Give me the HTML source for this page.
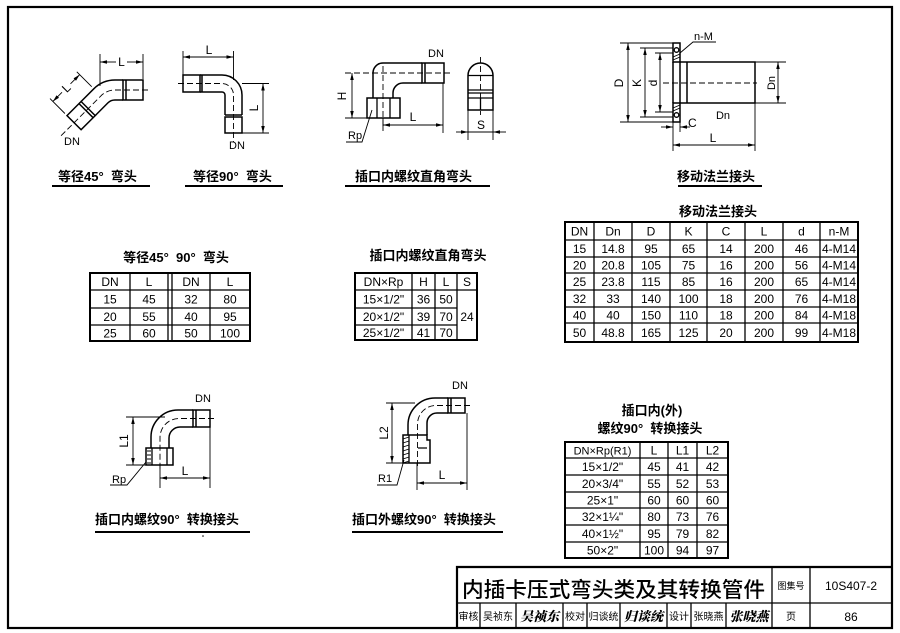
<!DOCTYPE html>
<html><head><meta charset="utf-8">
<style>
html,body{margin:0;padding:0;background:#fff;}
svg{display:block;}
.c{font-family:"Liberation Sans","Noto Sans CJK SC",sans-serif;font-weight:bold;font-size:13px;fill:#000;}
.t{font-family:"Liberation Sans","Noto Sans CJK SC",sans-serif;font-size:12px;fill:#000;}
.l{font-family:"Liberation Sans","Noto Sans CJK SC",sans-serif;font-size:11px;fill:#000;}
.s{fill:none;stroke:#000;stroke-width:1.5;}
.d{fill:none;stroke:#000;stroke-width:0.9;}
.k{fill:none;stroke:#000;stroke-width:0.9;stroke-dasharray:6 3;}
.g{fill:none;stroke:#000;stroke-width:1.3;}
.b{fill:none;stroke:#000;stroke-width:2;}
</style></head><body>
<svg width="900" height="633" viewBox="0 0 900 633" xmlns="http://www.w3.org/2000/svg">
<defs>
<marker id="a" viewBox="0 0 10 10" refX="10" refY="5" markerWidth="7" markerHeight="7" markerUnits="userSpaceOnUse" orient="auto-start-reverse"><path d="M0,2.5L10,5L0,7.5z" fill="#000"/></marker>
</defs>
<rect x="8" y="7" width="884" height="621" fill="none" stroke="#000" stroke-width="2.2"/>

<!-- ===== Drawing 1: 45 elbow ===== -->
<rect class="s" x="123" y="80" width="20" height="20"/>
<line class="s" x1="126" y1="80" x2="126" y2="100"/>
<path class="s" d="M123,80H115A30,30 0 0 0 93.8,88.8L81.1,101.5"/>
<path class="s" d="M123,100H115A10,10 0 0 0 107.9,102.9L95.2,115.6"/>
<polygon class="s" points="81.1,101.5 67,115.6 81.1,129.7 95.2,115.6"/>
<line class="s" x1="79" y1="103.6" x2="93.1" y2="117.7"/>
<path class="k" d="M148,90H115A20,20 0 0 0 100.9,95.9L60,136.8"/>
<path class="d" d="M100,54V86M143,54V79"/>
<line class="d" x1="116" y1="62" x2="100" y2="62" marker-end="url(#a)"/>
<line class="d" x1="127" y1="62" x2="143" y2="62" marker-end="url(#a)"/>
<text class="t" x="121.5" y="66" text-anchor="middle">L</text>
<path class="d" d="M91.7,86.7L76.8,71.8M64.9,113.5L50,98.6"/>
<line class="d" x1="70.5" y1="83.8" x2="79.66" y2="74.66" marker-end="url(#a)"/>
<line class="d" x1="62" y1="92.3" x2="52.86" y2="101.46" marker-end="url(#a)"/>
<text class="t" text-anchor="middle" transform="translate(66.3,88.1) rotate(-45)" y="4">L</text>
<text class="l" x="64" y="145">DN</text>
<text class="c" x="58" y="181">等径45°&#160;&#160;弯头</text>
<line class="b" x1="52" y1="186" x2="150" y2="186"/>

<!-- ===== Drawing 2: 90 elbow ===== -->
<rect class="s" x="183" y="75" width="17" height="17"/>
<line class="s" x1="202" y1="75" x2="202" y2="92"/>
<path class="s" d="M200,75H222A20,20 0 0 1 242,95V115"/>
<path class="s" d="M200,92H222A3,3 0 0 1 225,95V115"/>
<line class="s" x1="225" y1="115" x2="242" y2="115"/>
<rect class="s" x="225" y="117" width="17" height="16"/>
<path class="k" d="M178,83.5H222A11.5,11.5 0 0 1 233.5,95V142"/>
<path class="d" d="M183,51V75M233.5,51V80"/>
<line class="d" x1="183" y1="57" x2="233.5" y2="57" marker-start="url(#a)" marker-end="url(#a)"/>
<text class="t" x="209" y="54" text-anchor="middle">L</text>
<path class="d" d="M242,83.5H269M242,133H269"/>
<line class="d" x1="263" y1="83.5" x2="263" y2="133" marker-start="url(#a)" marker-end="url(#a)"/>
<text class="t" text-anchor="middle" transform="translate(258,108) rotate(-90)" y="0">L</text>
<text class="l" x="229" y="149">DN</text>
<text class="c" x="193" y="181">等径90°&#160;&#160;弯头</text>
<line class="b" x1="185" y1="186" x2="283" y2="186"/>

<!-- ===== Drawing 3 ===== -->
<text class="l" x="428" y="57">DN</text>
<rect class="s" x="422" y="63" width="22" height="20"/>
<line class="s" x1="425" y1="63" x2="425" y2="83"/>
<path class="s" d="M422,63H383A10,10 0 0 0 373,73V98"/>
<path class="s" d="M422,83H403A10,10 0 0 0 393,93V98"/>
<rect class="s" x="367" y="98" width="33" height="20"/>
<path class="g" d="M377,98V118M390,98V118"/>
<path class="k" d="M345,73H450M383,66V126"/>
<path class="d" d="M345,118H367"/>
<line class="d" x1="352" y1="73" x2="352" y2="118" marker-start="url(#a)" marker-end="url(#a)"/>
<text class="t" text-anchor="middle" transform="translate(346,96) rotate(-90)" y="0">H</text>
<path class="d" d="M383,118V131M443,83V133"/>
<line class="d" x1="383" y1="125" x2="443" y2="125" marker-start="url(#a)" marker-end="url(#a)"/>
<text class="t" x="413" y="121" text-anchor="middle">L</text>
<path class="d" d="M372,110L362,142H346"/>
<text class="l" x="348" y="139">Rp</text>
<path class="s" d="M468,110V75.5A12.5,12.5 0 0 1 493,75.5V110Z"/>
<path class="g" d="M468,75.5H493M468,90H493M468,93H493M468,98H493M480.5,98V110"/>
<path class="k" d="M480.5,57V115"/>
<path class="d" d="M468,110V140M493,110V140M468,132H493"/>
<line class="d" x1="456" y1="132" x2="468" y2="132" marker-end="url(#a)"/>
<line class="d" x1="506" y1="132" x2="493" y2="132" marker-end="url(#a)"/>
<text class="t" x="481" y="129" text-anchor="middle">S</text>
<text class="c" x="355" y="181">插口内螺纹直角弯头</text>
<line class="b" x1="345" y1="186" x2="490" y2="186"/>

<!-- ===== Drawing 4: flange ===== -->
<rect class="s" x="673" y="43" width="7" height="19"/>
<rect class="s" x="673" y="103" width="7" height="19"/>
<line class="s" x1="673" y1="62" x2="673" y2="103"/>
<circle class="g" cx="676.5" cy="50" r="2.3"/>
<circle class="g" cx="676.5" cy="115" r="2.3"/>
<path class="d" d="M673,57L680,54M673,60L680,57M673,108L680,105M673,111L680,108"/>
<rect class="s" x="680" y="62" width="75" height="41"/>
<line class="s" x1="687" y1="62" x2="687" y2="103"/>
<path class="k" d="M663,83H757"/>
<path class="d" d="M620,43H673M620,122H673M640,48H673M640,117H673M655,53H673M655,112H673"/>
<line class="d" x1="628" y1="43" x2="628" y2="122" marker-start="url(#a)" marker-end="url(#a)"/>
<line class="d" x1="645" y1="48" x2="645" y2="117" marker-start="url(#a)" marker-end="url(#a)"/>
<line class="d" x1="660" y1="53" x2="660" y2="112" marker-start="url(#a)" marker-end="url(#a)"/>
<text class="t" text-anchor="middle" transform="translate(623,83) rotate(-90)">D</text>
<text class="t" text-anchor="middle" transform="translate(641,83) rotate(-90)">K</text>
<text class="t" text-anchor="middle" transform="translate(657,83) rotate(-90)">d</text>
<path class="d" d="M755,62H786M755,103H786"/>
<line class="d" x1="778" y1="62" x2="778" y2="103" marker-start="url(#a)" marker-end="url(#a)"/>
<text class="l" text-anchor="middle" transform="translate(775,83) rotate(-90)">Dn</text>
<text class="l" x="723" y="119" text-anchor="middle">Dn</text>
<path class="d" d="M680,53L693,42H716"/>
<text class="l" x="694" y="40">n-M</text>
<path class="d" d="M673,122V151M680,122V132M755,103V151"/>
<line class="d" x1="661" y1="127" x2="673" y2="127" marker-end="url(#a)"/>
<line class="d" x1="690" y1="127" x2="680" y2="127" marker-end="url(#a)"/>
<text class="t" x="688" y="127">C</text>
<line class="d" x1="673" y1="145" x2="755" y2="145" marker-start="url(#a)" marker-end="url(#a)"/>
<text class="t" x="713" y="142" text-anchor="middle">L</text>
<text class="c" x="677" y="181">移动法兰接头</text>
<line class="b" x1="678" y1="186" x2="762" y2="186"/>

<!-- ===== Table 1 ===== -->
<text class="c" x="176" y="262" text-anchor="middle">等径45°&#160;&#160;90°&#160;&#160;弯头</text>
<rect x="90" y="273" width="160" height="68" fill="none" stroke="#000" stroke-width="2"/>
<path class="g" d="M90,290H250M90,308H250M90,325H250M130,273V341M168,273V341M172,273V341M210,273V341"/>
<g class="t" text-anchor="middle">
<text x="110" y="286">DN</text><text x="149" y="286">L</text><text x="191" y="286">DN</text><text x="230" y="286">L</text>
<text x="110" y="303.5">15</text><text x="149" y="303.5">45</text><text x="191" y="303.5">32</text><text x="230" y="303.5">80</text>
<text x="110" y="321">20</text><text x="149" y="321">55</text><text x="191" y="321">40</text><text x="230" y="321">95</text>
<text x="110" y="337.5">25</text><text x="149" y="337.5">60</text><text x="191" y="337.5">50</text><text x="230" y="337.5">100</text>
</g>

<!-- ===== Table 2 ===== -->
<text class="c" x="428" y="260" text-anchor="middle">插口内螺纹直角弯头</text>
<rect x="355" y="273" width="122" height="67" fill="none" stroke="#000" stroke-width="2"/>
<path class="g" d="M355,290H477M355,308H457M355,325H457M412,273V340M435,273V340M457,273V340"/>
<g class="t" text-anchor="middle">
<text x="383.5" y="286">DN×Rp</text><text x="423.5" y="286">H</text><text x="446" y="286">L</text><text x="467" y="286">S</text>
<text x="383.5" y="303.5">15×1/2"</text><text x="423.5" y="303.5">36</text><text x="446" y="303.5">50</text>
<text x="383.5" y="321">20×1/2"</text><text x="423.5" y="321">39</text><text x="446" y="321">70</text><text x="467" y="321">24</text>
<text x="383.5" y="337">25×1/2"</text><text x="423.5" y="337">41</text><text x="446" y="337">70</text>
</g>

<!-- ===== Table 3 ===== -->
<text class="c" x="718" y="216" text-anchor="middle">移动法兰接头</text>
<rect x="565" y="222" width="293" height="120" fill="none" stroke="#000" stroke-width="2"/>
<path class="g" d="M565,240H858M565,257H858M565,273H858M565,290H858M565,307H858M565,323H858M594,222V342M632,222V342M670,222V342M707,222V342M745,222V342M783,222V342M820,222V342"/>
<g class="t" text-anchor="middle">
<text x="579.5" y="235.5">DN</text><text x="613" y="235.5">Dn</text><text x="651" y="235.5">D</text><text x="688.5" y="235.5">K</text><text x="726" y="235.5">C</text><text x="764" y="235.5">L</text><text x="801.5" y="235.5">d</text><text x="839" y="235.5">n-M</text>
<text x="579.5" y="253">15</text><text x="613" y="253">14.8</text><text x="651" y="253">95</text><text x="688.5" y="253">65</text><text x="726" y="253">14</text><text x="764" y="253">200</text><text x="801.5" y="253">46</text><text x="839" y="253">4-M14</text>
<text x="579.5" y="269.5">20</text><text x="613" y="269.5">20.8</text><text x="651" y="269.5">105</text><text x="688.5" y="269.5">75</text><text x="726" y="269.5">16</text><text x="764" y="269.5">200</text><text x="801.5" y="269.5">56</text><text x="839" y="269.5">4-M14</text>
<text x="579.5" y="286">25</text><text x="613" y="286">23.8</text><text x="651" y="286">115</text><text x="688.5" y="286">85</text><text x="726" y="286">16</text><text x="764" y="286">200</text><text x="801.5" y="286">65</text><text x="839" y="286">4-M14</text>
<text x="579.5" y="303">32</text><text x="613" y="303">33</text><text x="651" y="303">140</text><text x="688.5" y="303">100</text><text x="726" y="303">18</text><text x="764" y="303">200</text><text x="801.5" y="303">76</text><text x="839" y="303">4-M18</text>
<text x="579.5" y="319.5">40</text><text x="613" y="319.5">40</text><text x="651" y="319.5">150</text><text x="688.5" y="319.5">110</text><text x="726" y="319.5">18</text><text x="764" y="319.5">200</text><text x="801.5" y="319.5">84</text><text x="839" y="319.5">4-M18</text>
<text x="579.5" y="337">50</text><text x="613" y="337">48.8</text><text x="651" y="337">165</text><text x="688.5" y="337">125</text><text x="726" y="337">20</text><text x="764" y="337">200</text><text x="801.5" y="337">99</text><text x="839" y="337">4-M18</text>
</g>

<!-- ===== Drawing 5 ===== -->
<text class="l" x="195" y="402">DN</text>
<rect class="s" x="193" y="410" width="17" height="17"/>
<line class="s" x1="196" y1="410" x2="196" y2="427"/>
<path class="s" d="M193,410H178A27,27 0 0 0 151,437V448"/>
<path class="s" d="M193,427H180A11,11 0 0 0 169,438V448"/>
<rect class="s" x="146" y="448" width="27" height="17"/>
<path class="g" d="M152,448V465M167,448V465"/>
<path class="d" d="M147,451H151M147,455H151M147,459H151M147,463H151"/>
<path class="k" d="M214,418.5H179A19,19 0 0 0 160,437.5V470"/>
<path class="d" d="M126,417H165M126,465H147"/>
<line class="d" x1="133" y1="417" x2="133" y2="465" marker-start="url(#a)" marker-end="url(#a)"/>
<text class="t" text-anchor="middle" transform="translate(128,441) rotate(-90)">L1</text>
<path class="d" d="M160,465V488M210,427V488"/>
<line class="d" x1="160" y1="478" x2="210" y2="478" marker-start="url(#a)" marker-end="url(#a)"/>
<text class="t" x="185" y="475" text-anchor="middle">L</text>
<path class="d" d="M146,462L127,485H110"/>
<text class="l" x="112" y="483">Rp</text>
<text class="c" x="95" y="524">插口内螺纹90°&#160;&#160;转换接头</text>
<line class="b" x1="95" y1="532" x2="250" y2="532"/>
<circle cx="203" cy="536" r="0.8" fill="#000"/>

<!-- ===== Drawing 6 ===== -->
<text class="l" x="452" y="389">DN</text>
<rect class="s" x="448" y="398" width="17" height="15"/>
<line class="s" x1="451" y1="398" x2="451" y2="413"/>
<path class="s" d="M448,398H435A27,27 0 0 0 408,425V435"/>
<path class="s" d="M448,413H437A10,10 0 0 0 427,423V435"/>
<path class="s" d="M403,435H427V440H430V463H403Z"/>
<path class="g" d="M409,435V463M418,448H427"/>
<path class="d" d="M403,439L409,437M403,443L409,441M403,447L409,445M403,451L409,449M403,455L409,453M403,459L409,457M403,463L409,461"/>
<path class="k" d="M470,405.5H436A18.5,18.5 0 0 0 417.5,424V468"/>
<path class="d" d="M386,403H415M386,463H403"/>
<line class="d" x1="392" y1="403" x2="392" y2="463" marker-start="url(#a)" marker-end="url(#a)"/>
<text class="t" text-anchor="middle" transform="translate(388,433) rotate(-90)">L2</text>
<path class="d" d="M417,463V490M467,413V490"/>
<line class="d" x1="417" y1="483" x2="467" y2="483" marker-start="url(#a)" marker-end="url(#a)"/>
<text class="t" x="442" y="479" text-anchor="middle">L</text>
<path class="d" d="M404,460L397,485H377"/>
<text class="l" x="378" y="482">R1</text>
<text class="c" x="352" y="524">插口外螺纹90°&#160;&#160;转换接头</text>
<line class="b" x1="352" y1="532" x2="503" y2="532"/>

<!-- ===== Table 4 ===== -->
<text class="c" x="652" y="415" text-anchor="middle">插口内(外)</text>
<text class="c" x="650" y="433" text-anchor="middle">螺纹90°&#160;&#160;转换接头</text>
<rect x="565" y="442" width="163" height="116" fill="none" stroke="#000" stroke-width="2"/>
<path class="g" d="M565,458H728M565,475H728M565,492H728M565,508H728M565,525H728M565,542H728M640,442V558M668,442V558M697,442V558"/>
<g class="t" text-anchor="middle">
<text x="602.5" y="454.5" style="font-size:11px">DN×Rp(R1)</text><text x="654" y="454.5">L</text><text x="682.5" y="454.5">L1</text><text x="712.5" y="454.5">L2</text>
<text x="602.5" y="471">15×1/2"</text><text x="654" y="471">45</text><text x="682.5" y="471">41</text><text x="712.5" y="471">42</text>
<text x="602.5" y="488">20×3/4"</text><text x="654" y="488">55</text><text x="682.5" y="488">52</text><text x="712.5" y="488">53</text>
<text x="602.5" y="504.5">25×1"</text><text x="654" y="504.5">60</text><text x="682.5" y="504.5">60</text><text x="712.5" y="504.5">60</text>
<text x="602.5" y="521">32×1¼"</text><text x="654" y="521">80</text><text x="682.5" y="521">73</text><text x="712.5" y="521">76</text>
<text x="602.5" y="538">40×1½"</text><text x="654" y="538">95</text><text x="682.5" y="538">79</text><text x="712.5" y="538">82</text>
<text x="602.5" y="554.5">50×2"</text><text x="654" y="554.5">100</text><text x="682.5" y="554.5">94</text><text x="712.5" y="554.5">97</text>
</g>

<!-- ===== Title block ===== -->
<path fill="none" stroke="#000" stroke-width="2.2" d="M457,628V567H892"/>
<path class="g" d="M457,603H892M772,567V628M810,567V628M480,603V628M516,603V628M563,603V628M587,603V628M620,603V628M667,603V628M691,603V628M726,603V628"/>
<text x="462" y="597" textLength="303" lengthAdjust="spacingAndGlyphs" style="font-family:'Liberation Sans','Noto Sans CJK SC',sans-serif;font-size:21px;font-weight:500;fill:#000">内插卡压式弯头类及其转换管件</text>
<text x="791" y="589" text-anchor="middle" style="font-family:'Noto Sans CJK SC',sans-serif;font-size:9px;fill:#000">图集号</text>
<text x="851" y="590" text-anchor="middle" class="t">10S407-2</text>
<g style="font-family:'Liberation Sans','Noto Sans CJK SC',sans-serif;font-size:10px;fill:#000" text-anchor="middle">
<text x="468.5" y="620">审核</text>
<text x="498" y="620">吴祯东</text>
<text x="575" y="620">校对</text>
<text x="603.5" y="620">归谈统</text>
<text x="679" y="620">设计</text>
<text x="708.5" y="620">张晓燕</text>
<text x="791" y="620">页</text>
<text x="851" y="621" style="font-size:12px">86</text>
</g>
<g style="font-family:'Noto Serif CJK SC','Noto Sans CJK SC',serif;font-size:13px;font-weight:900;font-style:italic;fill:#000" text-anchor="middle">
<text x="539.5" y="621">吴祯东</text>
<text x="643.5" y="621">归谈统</text>
<text x="749" y="621">张晓燕</text>
</g>
</svg>
</body></html>
